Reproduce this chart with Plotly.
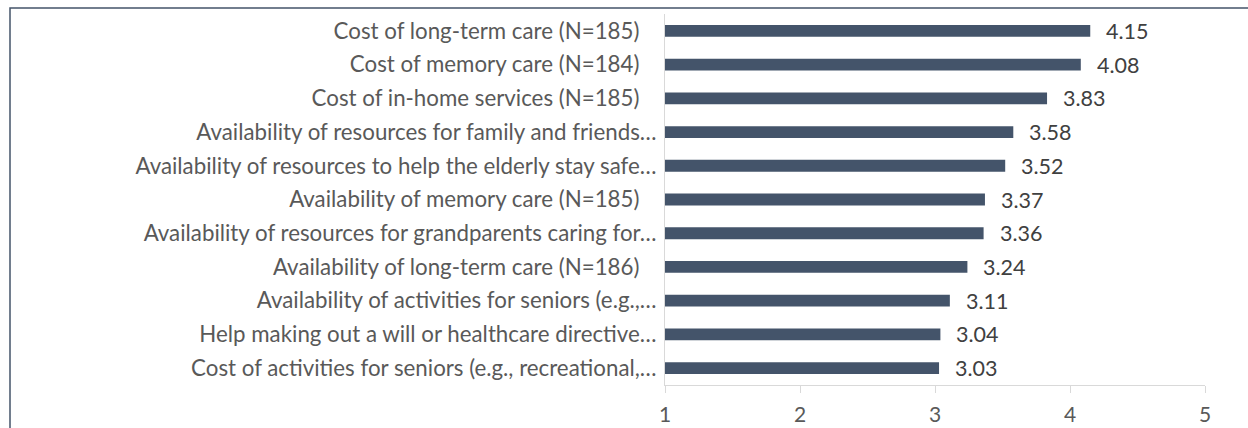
import plotly.graph_objects as go

categories = [
    "Cost of long-term care (N=185)",
    "Cost of memory care (N=184)",
    "Cost of in-home services (N=185)",
    "Availability of resources for family and friends…",
    "Availability of resources to help the elderly stay safe…",
    "Availability of memory care (N=185)",
    "Availability of resources for grandparents caring for…",
    "Availability of long-term care (N=186)",
    "Availability of activities for seniors (e.g.,…",
    "Help making out a will or healthcare directive…",
    "Cost of activities for seniors (e.g., recreational,…",
]
values = [4.15, 4.08, 3.83, 3.58, 3.52, 3.37, 3.36, 3.24, 3.11, 3.04, 3.03]
x_ticks = [1, 2, 3, 4, 5]

# tick label text (labels ending with "(N=...)" carry trailing spaces in the original)
tick_text = [c + ("\u00a0\u00a0\u00a0" if c.endswith(")") else "") for c in categories]

W, H = 1248, 428
ML, MR, MT, MB = 665, 43, 14, 43
FONT = "Lato"

fig = go.Figure()
fig.add_trace(go.Bar(
    x=values,
    y=categories,
    orientation="h",
    marker=dict(color="#44546A", line=dict(width=0)),
    hoverinfo="x+y",
))

for c, v in zip(categories, values):
    fig.add_annotation(
        x=v, y=c, xref="x", yref="y",
        text=f"{v:.2f}",
        showarrow=False,
        xanchor="left", xshift=14,
        font=dict(family=FONT, size=21.5, color="#404040"),
    )

pw = W - ML - MR
ph = H - MT - MB
# chart-area border (extends past the right and bottom edges of the picture)
fig.add_shape(
    type="rect", xref="paper", yref="paper",
    x0=(10 - ML) / pw, x1=(W + 20 - ML) / pw,
    y0=-(H + 20 - (H - MB)) / ph, y1=((H - MB) - 8) / ph,
    line=dict(color="#44546A", width=1.5),
    fillcolor="rgba(0,0,0,0)",
    layer="above",
)

fig.update_layout(
    width=W, height=H,
    margin=dict(l=ML, r=MR, t=MT, b=MB, pad=0, autoexpand=False),
    paper_bgcolor="white",
    plot_bgcolor="white",
    showlegend=False,
    bargap=0.65,
    font=dict(family=FONT, color="#595959"),
    xaxis=dict(
        range=[1, 5],
        tickvals=x_ticks,
        ticktext=[str(t) for t in x_ticks],
        showgrid=False,
        zeroline=False,
        showline=True, linecolor="#D9D9D9", linewidth=1,
        ticks="outside", ticklen=7, tickcolor="#D9D9D9", tickwidth=1,
        ticklabelstandoff=4,
        automargin=False,
        tickfont=dict(family=FONT, size=21, color="#595959"),
        fixedrange=True,
    ),
    yaxis=dict(
        autorange="reversed",
        tickvals=categories,
        ticktext=tick_text,
        showgrid=False,
        zeroline=False,
        showline=True, linecolor="#D9D9D9", linewidth=1,
        ticks="", ticklabelstandoff=3,
        automargin=False,
        tickfont=dict(family=FONT, size=22.3, color="#595959"),
        fixedrange=True,
    ),
)

fig.write_html(
    "out.html",
    config={"displayModeBar": False},
    post_script="document.body.style.margin='0';",
)
